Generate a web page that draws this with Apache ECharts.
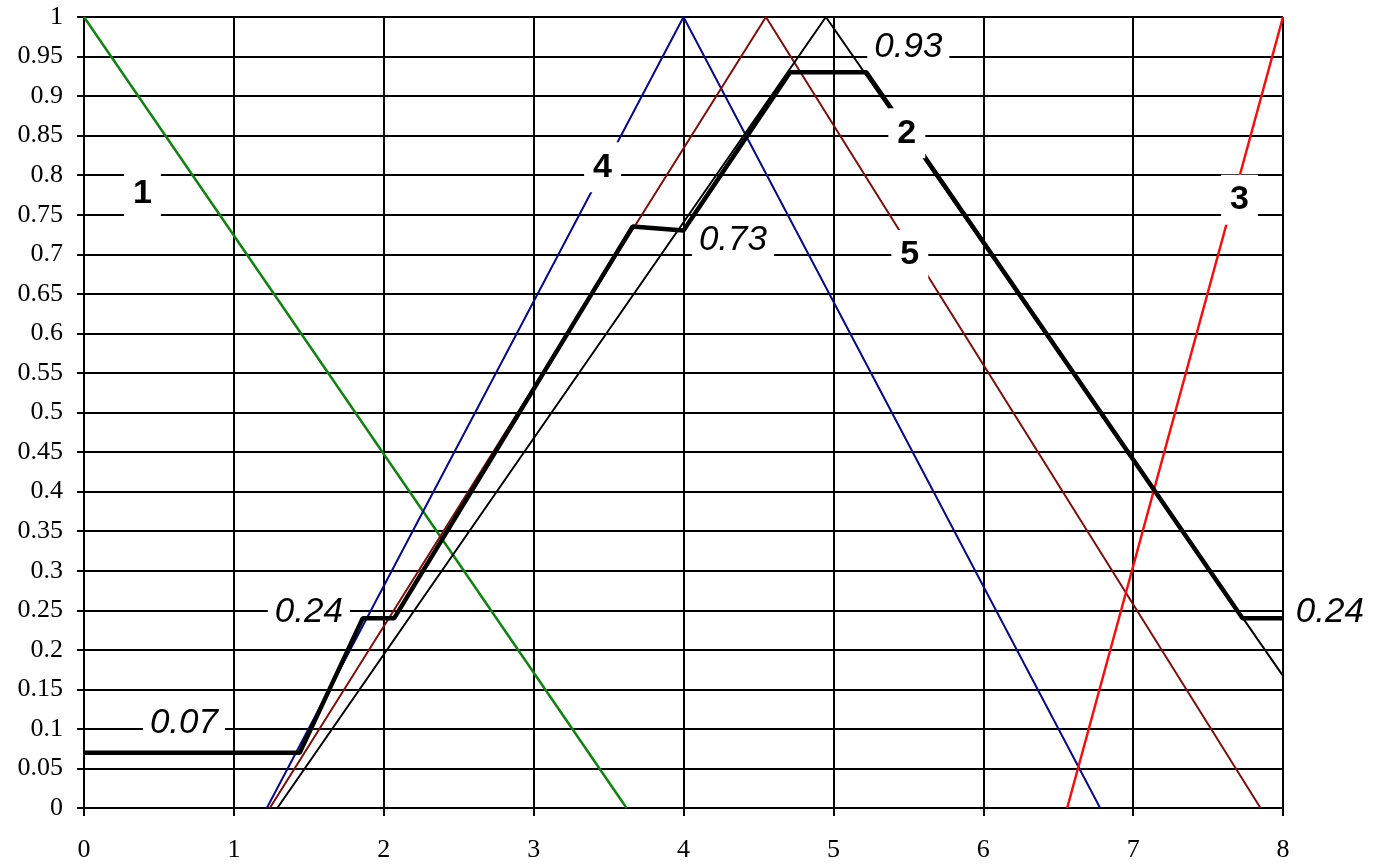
<!DOCTYPE html>
<html>
<head>
<meta charset="utf-8">
<script src="https://cdn.jsdelivr.net/npm/echarts@6/dist/echarts.min.js"></script>
<style>
  html, body { margin: 0; padding: 0; background: #fff; }
  #chart { width: 1373px; height: 865px; }
</style>
</head>
<body>
<div id="chart"></div>
<script>
// membership functions, [x, mu]
const term1 = [[0, 1], [3.62, 0]];
const term4 = [[1.22, 0], [4, 1], [6.78, 0]];
const term5 = [[1.24, 0], [4.55, 1], [7.85, 0]];
const term2 = [[1.29, 0], [4.95, 1], [8, 0.167]];
const term3 = [[6.56, 0], [8, 1]];
// resulting (clipped) function
const result = [[0, 0.07], [1.44, 0.07], [1.86, 0.24], [2.07, 0.24], [3.66, 0.735], [4.0, 0.73],
  [4.71, 0.93], [5.22, 0.93], [7.73, 0.24], [8, 0.24]];

const curveLabels = [[0.39, 0.777, '1'], [3.46, 0.81, '4'], [5.49, 0.853, '2'], [5.51, 0.699, '5'], [7.71, 0.769, '3']];
const valueLabels = [[0.667, 0.107, '0.07'], [1.5, 0.248, '0.24'], [4.33, 0.718, '0.73'], [5.5, 0.962, '0.93'], [8.313, 0.248, '0.24']];

const chart = echarts.init(document.getElementById('chart'));

const thin = (name, data, color, width) => ({
  name, type: 'line', data, symbol: 'none', z: 3,
  lineStyle: { color, width }
});

const labelSeries = (data, font) => ({
  type: 'scatter', symbolSize: 0, clip: false, z: 10,
  itemStyle: { opacity: 1 },
  data: data.map(d => ({ value: [d[0], d[1]], name: d[2] })),
  label: Object.assign({
    show: true, position: 'inside', formatter: p => p.name,
    color: '#000', backgroundColor: '#fff'
  }, font)
});

chart.setOption({
  animation: false,
  backgroundColor: '#fff',
  grid: { left: 84, top: 17, right: 90, bottom: 57 },
  xAxis: {
    type: 'value', min: 0, max: 8, interval: 1,
    axisLine: { lineStyle: { color: '#000', width: 2 } },
    axisTick: { show: true, length: 8, lineStyle: { color: '#000', width: 2 } },
    axisLabel: { fontFamily: 'Liberation Serif', fontSize: 26, color: '#000', margin: 29 },
    splitLine: { show: true, lineStyle: { color: '#000', width: 2 } }
  },
  yAxis: {
    type: 'value', min: 0, max: 1, interval: 0.05,
    axisLine: { show: true, lineStyle: { color: '#000', width: 2 } },
    axisTick: { show: true, length: 7, lineStyle: { color: '#000', width: 2 } },
    axisLabel: {
      fontFamily: 'Liberation Serif', fontSize: 26, color: '#000', margin: 21,
      formatter: v => String(+v.toFixed(2))
    },
    splitLine: { show: true, lineStyle: { color: '#000', width: 2 } }
  },
  series: [
    thin('1', term1, '#138013', 2.5),
    thin('4', term4, '#0a0a80', 2),
    thin('5', term5, '#7a0f0f', 2),
    thin('2', term2, '#000', 2),
    thin('3', term3, '#ee1111', 2.5),
    {
      name: 'result', type: 'line', data: result, symbol: 'none', z: 4,
      lineStyle: { color: '#000', width: 4.5 }
    },
    labelSeries(curveLabels, { fontFamily: 'Liberation Sans', fontSize: 34, fontWeight: 'bold', padding: [8, 9] }),
    labelSeries(valueLabels, { fontFamily: 'Liberation Sans', fontSize: 35, fontStyle: 'italic', padding: [1, 7] })
  ]
});
</script>
</body>
</html>
